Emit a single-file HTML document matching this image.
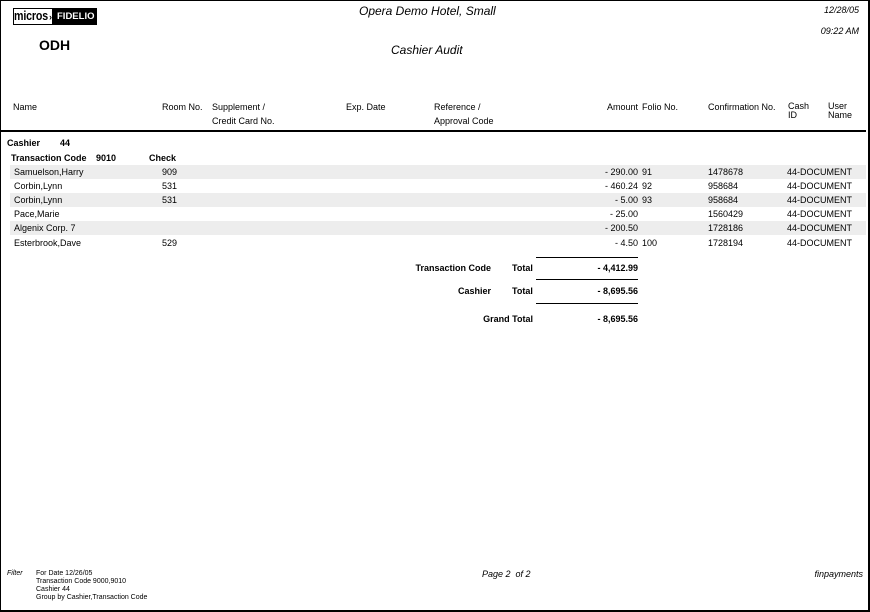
<!DOCTYPE html>
<html><head><meta charset="utf-8">
<style>
*{margin:0;padding:0;box-sizing:border-box}
html,body{width:870px;height:612px;background:#fff;overflow:hidden}
body{position:relative;font-family:"Liberation Sans",Arial,sans-serif;color:#000;font-size:9px}
.a{position:absolute;white-space:nowrap;line-height:11px}
.r{text-align:right}
.b{font-weight:bold}
.i{font-style:italic}
.ln{position:absolute;background:#000}
.sh{position:absolute;left:10px;width:856px;height:14px;background:#ededed}
</style></head><body>
<div style="position:absolute;left:0;top:0;width:870px;height:612px;border:1px solid #000;border-right-width:2px;border-bottom-width:2px"></div>

<!-- logo -->
<div style="position:absolute;left:13px;top:8px;width:84px;height:17px;border:1px solid #000;background:#fff"></div>
<div style="position:absolute;left:52px;top:8px;width:45px;height:17px;background:#000"></div>
<div class="a b" style="left:14px;top:9px;font-size:13px;line-height:14px;transform:scaleX(0.82);transform-origin:left top;letter-spacing:-0.2px">micros</div>
<div class="a b" style="left:49px;top:12px;font-size:9px;line-height:11px;color:#000">›</div>
<div class="a b" style="left:57px;top:11px;font-size:9.5px;line-height:11px;color:#fff">FIDELIO</div>

<div class="a b" style="left:39px;top:37px;font-size:14px;line-height:16px">ODH</div>
<div class="a i" style="left:359px;top:4px;font-size:12px;line-height:14px">Opera Demo Hotel, Small</div>
<div class="a i" style="left:391px;top:43px;font-size:12px;line-height:14px">Cashier Audit</div>
<div class="a i r" style="right:11px;top:5px;font-size:9px">12/28/05</div>
<div class="a i r" style="right:11px;top:26px;font-size:9px">09:22 AM</div>

<!-- column headers -->
<div class="a" style="left:13px;top:102px">Name</div>
<div class="a" style="left:162px;top:102px">Room No.</div>
<div class="a" style="left:212px;top:102px">Supplement /</div>
<div class="a" style="left:212px;top:116px">Credit Card No.</div>
<div class="a" style="left:346px;top:102px">Exp. Date</div>
<div class="a" style="left:434px;top:102px">Reference /</div>
<div class="a" style="left:434px;top:116px">Approval Code</div>
<div class="a r" style="left:537px;width:101px;top:102px">Amount</div>
<div class="a" style="left:642px;top:102px">Folio No.</div>
<div class="a" style="left:708px;top:102px">Confirmation No.</div>
<div class="a" style="left:788px;top:102px;line-height:9px">Cash<br>ID</div>
<div class="a" style="left:828px;top:102px;line-height:9px">User<br>Name</div>

<div class="ln" style="left:0;top:130px;width:866px;height:2px"></div>

<div class="a b" style="left:7px;top:138px">Cashier</div>
<div class="a b" style="left:60px;top:138px">44</div>
<div class="a b" style="left:11px;top:153px">Transaction Code</div>
<div class="a b" style="left:96px;top:153px">9010</div>
<div class="a b" style="left:149px;top:153px">Check</div>

<div class="sh" style="top:165px"></div>
<div class="sh" style="top:193px"></div>
<div class="sh" style="top:221px"></div>

<!-- rows -->
<div class="a" style="left:14px;top:167px">Samuelson,Harry</div>
<div class="a r" style="left:137px;width:40px;top:167px">909</div>
<div class="a r" style="left:537px;width:101px;top:167px">- 290.00</div>
<div class="a" style="left:642px;top:167px">91</div>
<div class="a" style="left:708px;top:167px">1478678</div>
<div class="a" style="left:787px;top:167px">44-DOCUMENT</div>

<div class="a" style="left:14px;top:181px">Corbin,Lynn</div>
<div class="a r" style="left:137px;width:40px;top:181px">531</div>
<div class="a r" style="left:537px;width:101px;top:181px">- 460.24</div>
<div class="a" style="left:642px;top:181px">92</div>
<div class="a" style="left:708px;top:181px">958684</div>
<div class="a" style="left:787px;top:181px">44-DOCUMENT</div>

<div class="a" style="left:14px;top:195px">Corbin,Lynn</div>
<div class="a r" style="left:137px;width:40px;top:195px">531</div>
<div class="a r" style="left:537px;width:101px;top:195px">- 5.00</div>
<div class="a" style="left:642px;top:195px">93</div>
<div class="a" style="left:708px;top:195px">958684</div>
<div class="a" style="left:787px;top:195px">44-DOCUMENT</div>

<div class="a" style="left:14px;top:209px">Pace,Marie</div>
<div class="a r" style="left:537px;width:101px;top:209px">- 25.00</div>
<div class="a" style="left:708px;top:209px">1560429</div>
<div class="a" style="left:787px;top:209px">44-DOCUMENT</div>

<div class="a" style="left:14px;top:223px">Algenix Corp. 7</div>
<div class="a r" style="left:537px;width:101px;top:223px">- 200.50</div>
<div class="a" style="left:708px;top:223px">1728186</div>
<div class="a" style="left:787px;top:223px">44-DOCUMENT</div>

<div class="a" style="left:14px;top:238px">Esterbrook,Dave</div>
<div class="a r" style="left:137px;width:40px;top:238px">529</div>
<div class="a r" style="left:537px;width:101px;top:238px">- 4.50</div>
<div class="a" style="left:642px;top:238px">100</div>
<div class="a" style="left:708px;top:238px">1728194</div>
<div class="a" style="left:787px;top:238px">44-DOCUMENT</div>

<!-- totals -->
<div class="ln" style="left:536px;top:257px;width:102px;height:1px"></div>
<div class="a b r" style="left:391px;width:100px;top:263px">Transaction Code</div>
<div class="a b" style="left:512px;top:263px">Total</div>
<div class="a b r" style="left:537px;width:101px;top:263px">- 4,412.99</div>
<div class="ln" style="left:536px;top:279px;width:102px;height:1px"></div>
<div class="a b r" style="left:391px;width:100px;top:286px">Cashier</div>
<div class="a b" style="left:512px;top:286px">Total</div>
<div class="a b r" style="left:537px;width:101px;top:286px">- 8,695.56</div>
<div class="ln" style="left:536px;top:303px;width:102px;height:1px"></div>
<div class="a b r" style="left:433px;width:100px;top:314px">Grand Total</div>
<div class="a b r" style="left:537px;width:101px;top:314px">- 8,695.56</div>

<!-- footer -->
<div class="a i" style="left:7px;top:570px;font-size:7px;line-height:8px">Filter</div>
<div class="a" style="left:36px;top:570px;font-size:7px;line-height:8px">For Date 12/26/05<br>Transaction Code 9000,9010<br>Cashier 44<br>Group by Cashier,Transaction Code</div>
<div class="a i" style="left:482px;top:569px">Page 2&nbsp; of 2</div>
<div class="a i r" style="right:7px;top:569px">finpayments</div>
</body></html>
